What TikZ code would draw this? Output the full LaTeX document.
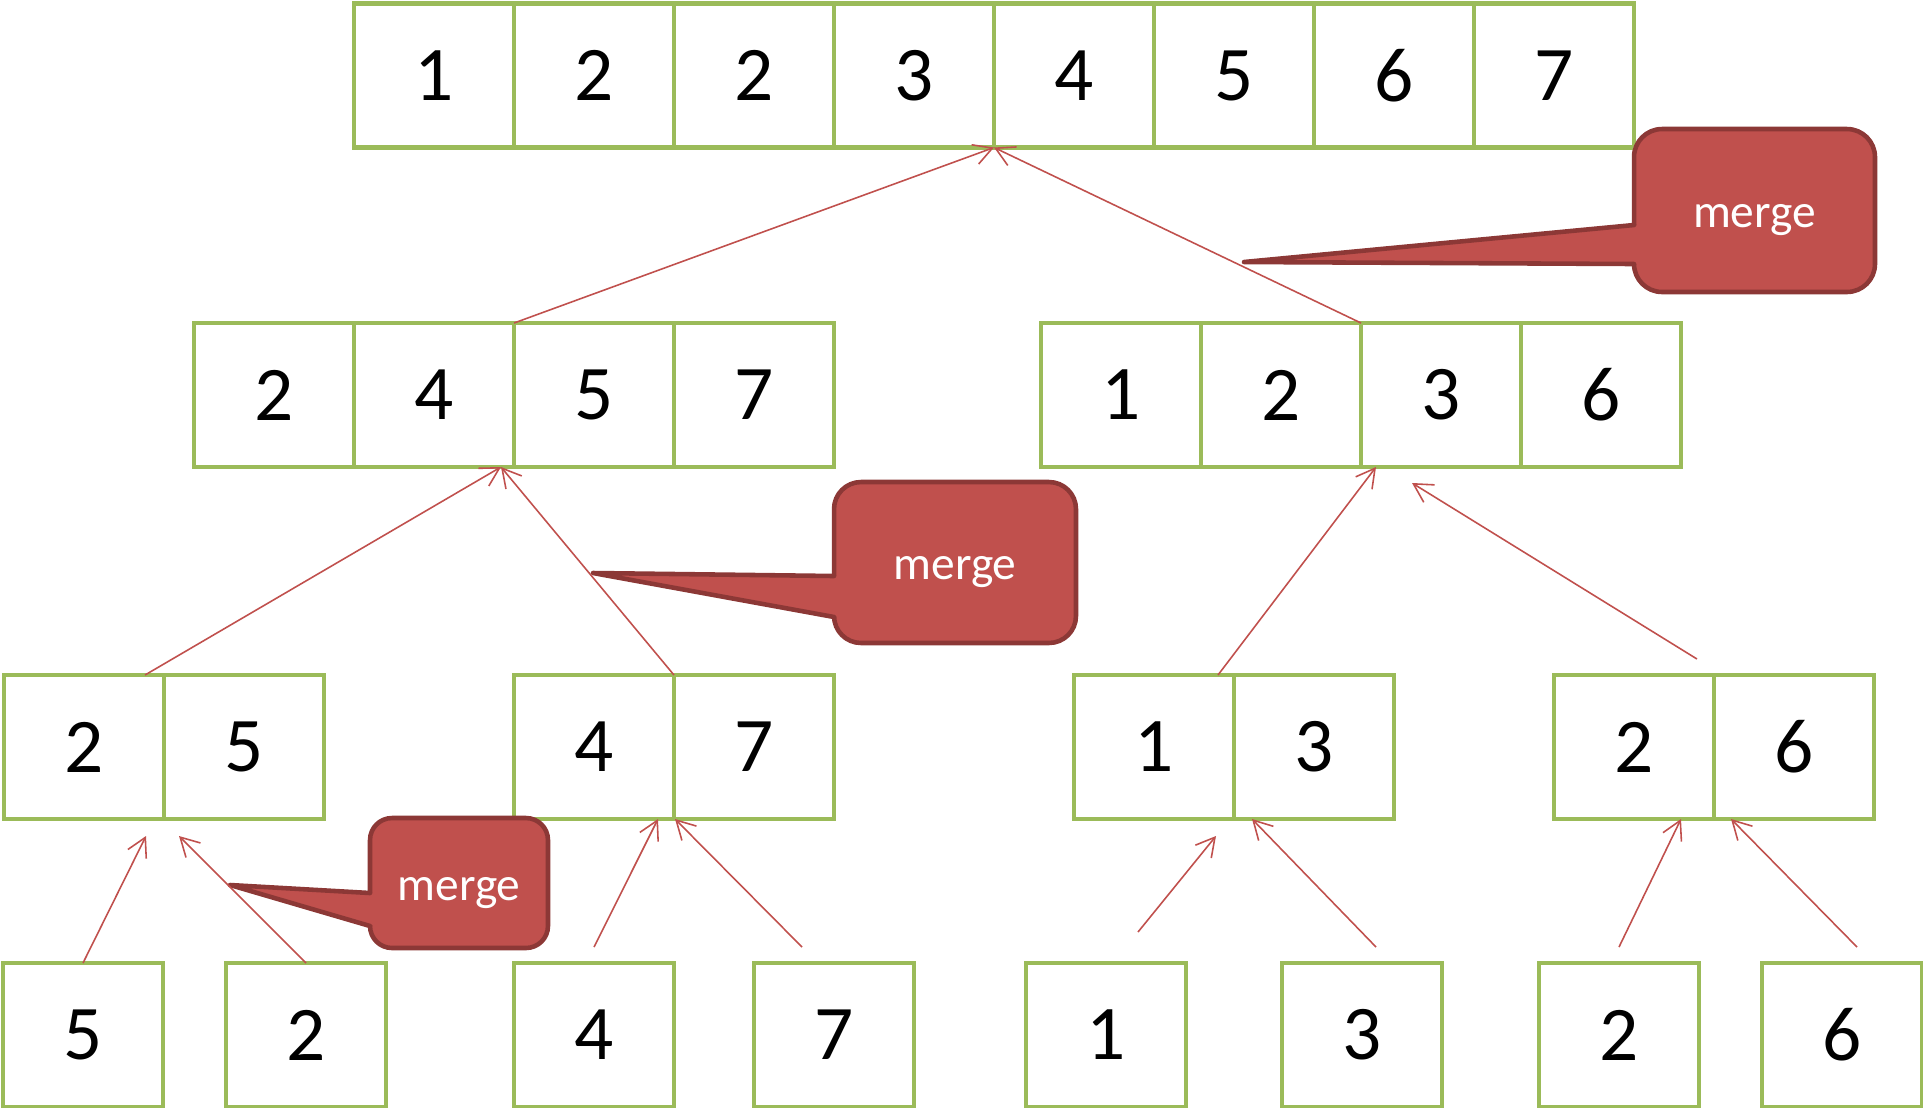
\documentclass[tikz,border=0pt]{standalone}
\usepackage{fontspec}
\setmainfont{Carlito}
\usetikzlibrary{arrows.meta}
\usetikzlibrary{calc}
\definecolor{cellgreen}{HTML}{9BBB59}
\definecolor{mergered}{HTML}{C0504D}
\definecolor{mergeedge}{HTML}{8C3836}

\begin{document}
\begin{tikzpicture}[x=0.02cm,y=-0.02cm,
  cell/.style={draw=cellgreen,line width=2.6pt,fill=white,minimum width=3.2cm,minimum height=2.88cm,inner sep=0pt,outer sep=0pt,font=\fontsize{44}{50}\selectfont},
  mergebox/.style={draw=mergeedge,fill=mergered,line width=2.6pt,text=white,inner sep=0pt,outer sep=0pt,text depth=0pt,text height=19.8pt,font=\fontsize{27}{32}\selectfont},
  tail/.style={fill=mergered},
  tailedge/.style={draw=mergeedge,line width=2.6pt,line cap=round,line join=round},
  up/.style={draw=mergered,line width=0.9pt,-{Straight Barb[length=0.37cm,width=0.41cm]}}]
\useasboundingbox (0,0) rectangle (1923,1107);

\foreach \v [count=\i] in {1,2,2,3,4,5,6,7}
  \node[cell] (t\i) at (274+160*\i,75.5) {\v};
\foreach \v [count=\i] in {2,4,5,7}
  \node[cell] (a\i) at (114+160*\i,395) {\v};
\foreach \v [count=\i] in {1,2,3,6}
  \node[cell] (b\i) at (961+160*\i,395) {\v};
\foreach \v/\x [count=\i] in {2/84,5/244,4/594,7/754,1/1154,3/1314,2/1634,6/1794}
  \node[cell] (c\i) at (\x,747) {\v};
\foreach \v/\x [count=\i] in {5/83,2/306,4/594,7/834,1/1106,3/1362,2/1619,6/1842}
  \node[cell] (d\i) at (\x,1035) {\v};

% merge callouts
\node[mergebox,rounded corners=0.56cm,minimum width=4.82cm,minimum height=3.26cm] (m1) at (1754.5,210.5) {merge};
\coordinate (p1) at (1244,262);
\fill[tail] (p1) -- ($(m1.west)+(6,14.5)$) -- ($(m1.west)+(6,53.5)$) -- cycle;
\draw[tailedge] ($(m1.west)+(0,14.5)$) -- (p1) -- ($(m1.west)+(0,53.5)$);

\node[mergebox,rounded corners=0.54cm,minimum width=4.84cm,minimum height=3.22cm] (m2) at (955,562.5) {merge};
\coordinate (p2) at (593,573);
\fill[tail] (p2) -- ($(m2.west)+(6,13.5)$) -- ($(m2.west)+(6,54.5)$) -- cycle;
\draw[tailedge] ($(m2.west)+(0,13.5)$) -- (p2) -- ($(m2.west)+(0,54.5)$);

\node[mergebox,rounded corners=0.44cm,minimum width=3.56cm,minimum height=2.6cm] (m3) at (459,883) {merge};
\coordinate (p3) at (230,885);
\fill[tail] (p3) -- ($(m3.west)+(6,10)$) -- ($(m3.west)+(6,43)$) -- cycle;
\draw[tailedge] ($(m3.west)+(0,10)$) -- (p3) -- ($(m3.west)+(0,43)$);

\draw[up] (a3.north west) -- (t5.south west);
\draw[up] (b3.north west) -- (t5.south west);
\draw[up] ($(c1.north east)+(-19,0)$) -- ($(a2.south east)+(-13,0)$);
\draw[up] (c3.north east) -- ($(a2.south east)+(-13,0)$);
\draw[up] ($(c5.north east)+(-16,0)$) -- ($(b3.south west)+(15,0)$);
\draw[up] ($(c7.north east)+(-17,-16)$) -- ($(b3.south west)+(51,16)$);

\draw[up] (d1.north) -- ($(c2.south west)+(-18,17)$);
\draw[up] (d2.north) -- ($(c2.south west)+(15,17)$);
\draw[up] ($(d3.north)+(0,-16)$) -- ($(c3.south east)+(-16,0)$);
\draw[up] ($(d4.north)+(-32,-16)$) -- ($(c4.south west)+(1,0)$);
\draw[up] ($(d5.north)+(32,-31)$) -- ($(c5.south east)+(-18,17)$);
\draw[up] ($(d6.north)+(14,-16)$) -- ($(c6.south west)+(18,0)$);
\draw[up] ($(d7.north)+(0,-16)$) -- ($(c7.south east)+(-33,0)$);
\draw[up] ($(d8.north)+(15,-16)$) -- ($(c8.south west)+(17,0)$);
\end{tikzpicture}
\end{document}
